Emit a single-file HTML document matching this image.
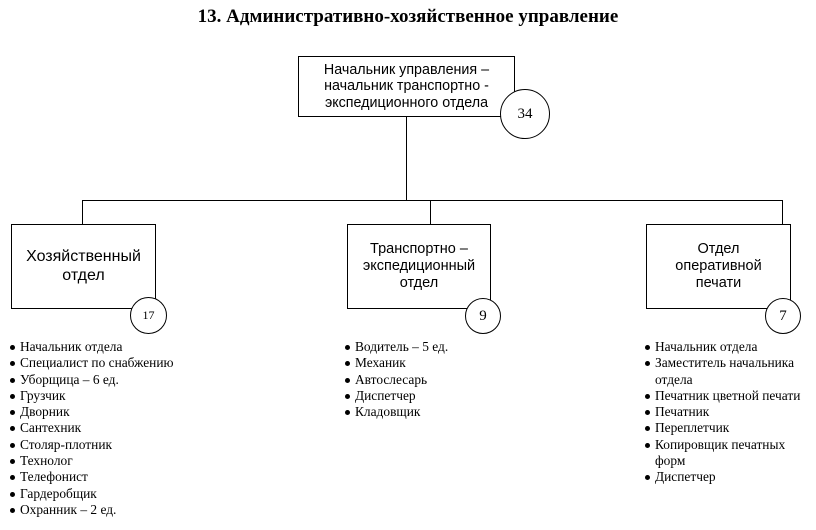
<!DOCTYPE html>
<html><head><meta charset="utf-8"><style>
body{margin:0;background:#fff;width:816px;height:530px;position:relative;overflow:hidden;font-family:"Liberation Serif",serif;}
.t{position:absolute;left:0;width:816px;top:6px;text-align:center;font-weight:bold;font-size:19px;}
.box{position:absolute;border:1px solid #000;background:#fff;font-family:"Liberation Sans",sans-serif;text-align:center;display:flex;align-items:center;justify-content:center;box-sizing:border-box;line-height:1.15}
.c{position:absolute;border:1px solid #000;border-radius:50%;background:#fff;display:flex;align-items:center;justify-content:center;box-sizing:border-box;font-size:14px}
.l{position:absolute;width:2px;background:#000}
.h{position:absolute;height:1px;background:#000}
ul{position:absolute;margin:0;padding:0;list-style:none;font-size:13.4px;line-height:16.3px}
li{position:relative;padding-left:10px}
li:before{content:"";position:absolute;left:0;top:6px;width:5px;height:5px;border-radius:50%;background:#000}
</style></head><body>
<div class="t">13. Административно-хозяйственное управление</div>
<div class="l" style="left:406px;top:116px;height:84px;width:1px"></div>
<div class="h" style="left:82px;top:200px;width:700px"></div>
<div class="l" style="left:82px;top:200px;height:24px;width:1px"></div>
<div class="l" style="left:430px;top:200px;height:24px;width:1px"></div>
<div class="l" style="left:782px;top:200px;height:24px;width:1px"></div>
<div class="box" style="left:298px;top:56px;width:217px;height:61px;font-size:14.3px">Начальник управления –<br>начальник транспортно -<br>экспедиционного отдела</div>
<div class="c" style="left:500px;top:89px;width:50px;height:50px;font-size:15px">34</div>
<div class="box" style="left:11px;top:224px;width:145px;height:85px;font-size:16px">Хозяйственный<br>отдел</div>
<div class="c" style="left:130px;top:297px;width:37px;height:37px;font-size:12px">17</div>
<div class="box" style="left:347px;top:224px;width:144px;height:85px;font-size:14.5px">Транспортно –<br>экспедиционный<br>отдел</div>
<div class="c" style="left:465px;top:298px;width:36px;height:36px;font-size:15px">9</div>
<div class="box" style="left:646px;top:224px;width:145px;height:85px;font-size:14.5px">Отдел<br>оперативной<br>печати</div>
<div class="c" style="left:765px;top:298px;width:36px;height:36px;font-size:15px">7</div>
<ul style="left:10px;top:339px"><li>Начальник отдела</li><li>Специалист по снабжению</li><li>Уборщица – 6 ед.</li><li>Грузчик</li><li>Дворник</li><li>Сантехник</li><li>Столяр-плотник</li><li>Технолог</li><li>Телефонист</li><li>Гардеробщик</li><li>Охранник – 2 ед.</li></ul>
<ul style="left:345px;top:339px"><li>Водитель – 5 ед.</li><li>Механик</li><li>Автослесарь</li><li>Диспетчер</li><li>Кладовщик</li></ul>
<ul style="left:645px;top:339px;width:165px"><li>Начальник отдела</li><li>Заместитель начальника отдела</li><li>Печатник цветной печати</li><li>Печатник</li><li>Переплетчик</li><li>Копировщик печатных форм</li><li>Диспетчер</li></ul>
</body></html>
